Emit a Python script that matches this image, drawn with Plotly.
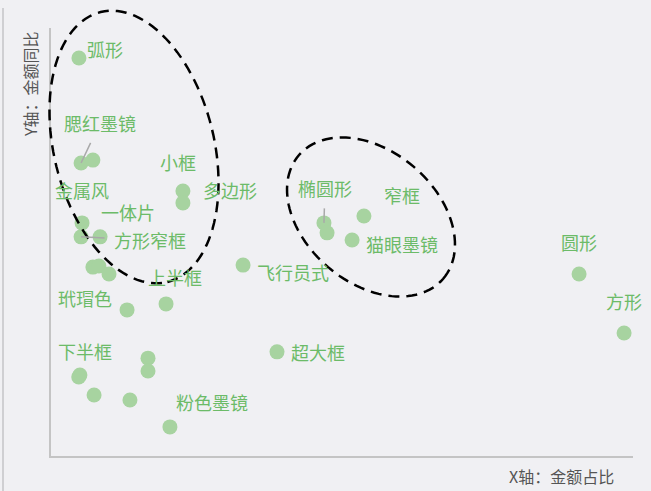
import math
import plotly.graph_objects as go

# ---------------- data ----------------
x_share = [1.44, 1.55, 2.16, 6.80, 6.80, 1.60, 1.55, 2.53, 2.16, 2.47, 2.99,
           3.92, 5.93, 9.90, 1.49, 1.43, 2.22, 4.07, 5.00, 5.00, 6.13, 11.65,
           14.07, 14.23, 16.13, 15.52, 27.22, 29.54]
y_yoy = [89.5, 52.7, 53.7, 42.9, 38.7, 31.7, 26.8, 26.8, 16.2, 16.6, 13.8,
         1.2, 3.3, 16.9, -21.6, -22.3, -28.6, -30.4, -15.7, -20.2, -39.8, -13.5,
         31.7, 28.2, 34.1, 25.7, 13.8, -6.9]
names = ["弧形", "腮红墨镜", "", "小框", "多边形", "金属风", "方形窄框", "一体片", "", "", "",
         "玳瑁色", "上半框", "飞行员式", "下半框", "", "", "", "", "", "粉色墨镜", "超大框",
         "椭圆形", "", "窄框", "猫眼墨镜", "圆形", "方形"]

x_title = "X轴：金额占比"
y_title = "Y轴：金额同比"

# ---------------- style ----------------
W, H = 651, 491
ML, MR, MT, MB = 51, 18, 28, 35
XR = [0, 30]
YR = [-50, 100]
PW, PH = W - ML - MR, H - MT - MB

FONT = "Noto Sans CJK SC"
POINT_COLOR = "#a7d3a0"
LABEL_COLOR = "#6cbb68"

# label offsets in pixels: (dx right, dy up) or arrow (ax, ay, startstandoff)
label_shift = {
    "弧形": (26, 9), "小框": (-5, 29), "多边形": (47, 13), "金属风": (0, 33),
    "一体片": (28, 25), "玳瑁色": (-42, 12), "上半框": (9, 27), "飞行员式": (50, -7),
    "下半框": (5, 24), "粉色墨镜": (42, 25), "超大框": (41, 0), "窄框": (38, 21),
    "猫眼墨镜": (50, -4), "圆形": (0, 32), "方形": (0, 32),
}
label_arrow = {
    "腮红墨镜": (19, -40, 6), "方形窄框": (69, 3, 8), "椭圆形": (1, -35, 6),
}

fig = go.Figure()
fig.add_trace(go.Scatter(
    x=x_share, y=y_yoy, mode="markers",
    marker=dict(size=15, color=POINT_COLOR, line=dict(width=0)),
    hoverinfo="skip", showlegend=False, cliponaxis=False,
))

annotations = []
for xv, yv, nm in zip(x_share, y_yoy, names):
    if not nm:
        continue
    if nm in label_arrow:
        ax, ay, ss = label_arrow[nm]
        annotations.append(dict(
            x=xv, y=yv, xref="x", yref="y", text=nm, showarrow=True,
            arrowhead=0, arrowwidth=1.5, arrowcolor="#a9a9a9",
            ax=ax, ay=ay, standoff=0, startstandoff=ss,
            font=dict(family=FONT, size=18, color=LABEL_COLOR),
        ))
    else:
        dx, dy = label_shift[nm]
        annotations.append(dict(
            x=xv, y=yv, xref="x", yref="y", text=nm, showarrow=False,
            xshift=dx, yshift=dy,
            font=dict(family=FONT, size=18, color=LABEL_COLOR),
        ))

# axis titles
annotations.append(dict(
    x=(561 - ML) / PW, y=(H - MB - 476) / PH, xref="paper", yref="paper",
    text=x_title, showarrow=False, xanchor="center", yanchor="middle",
    font=dict(family=FONT, size=16, color="#555555"),
))
annotations.append(dict(
    x=(30 - ML) / PW, y=(H - MB - 84) / PH, xref="paper", yref="paper",
    text=y_title, showarrow=False, textangle=-90, xanchor="center", yanchor="middle",
    font=dict(family=FONT, size=16, color="#555555"),
))


def px_to_paper(px, py):
    return (px - ML) / PW, (H - MB - py) / PH


def ellipse_path(cx, cy, a, b, ux, uy, n=120):
    norm = math.hypot(ux, uy)
    ux, uy = ux / norm, uy / norm
    vx, vy = uy, -ux
    pts = []
    for i in range(n + 1):
        t = 2 * math.pi * i / n
        px = cx + a * math.cos(t) * ux + b * math.sin(t) * vx
        py = cy + a * math.cos(t) * uy + b * math.sin(t) * vy
        pts.append(px_to_paper(px, py))
    return "M " + " L ".join(f"{p[0]:.5f},{p[1]:.5f}" for p in pts) + " Z"


shapes = [
    dict(type="path", xref="paper", yref="paper",
         path=ellipse_path(134, 147, 139, 80, 0.24, 0.97),
         line=dict(color="black", width=2.5, dash="11px,7px")),
    dict(type="path", xref="paper", yref="paper",
         path=ellipse_path(371, 217, 95, 66, 0.76, 0.65),
         line=dict(color="black", width=2.5, dash="11px,7px")),
    # left page border
    dict(type="line", xref="paper", yref="paper",
         x0=(3 - ML) / PW, x1=(3 - ML) / PW, y0=(H - MB - 8) / PH, y1=(H - MB - 491) / PH,
         line=dict(color="#cfcfd2", width=2)),
]

fig.update_layout(
    width=W, height=H, autosize=False,
    margin=dict(l=ML, r=MR, t=MT, b=MB),
    paper_bgcolor="#f0f0f3", plot_bgcolor="#f0f0f3",
    xaxis=dict(range=XR, showgrid=False, zeroline=False, showticklabels=False,
               ticks="", showline=True, linecolor="#c4c4c4", linewidth=2, fixedrange=True),
    yaxis=dict(range=YR, showgrid=False, zeroline=False, showticklabels=False,
               ticks="", showline=True, linecolor="#c4c4c4", linewidth=2, fixedrange=True),
    annotations=annotations,
    shapes=shapes,
    font=dict(family=FONT),
)

fig.write_html(
    "out.html",
    config={"displayModeBar": False},
    post_script="document.body.style.margin='0';document.body.style.overflow='hidden';"
                "document.body.style.background='#f0f0f3';",
)
